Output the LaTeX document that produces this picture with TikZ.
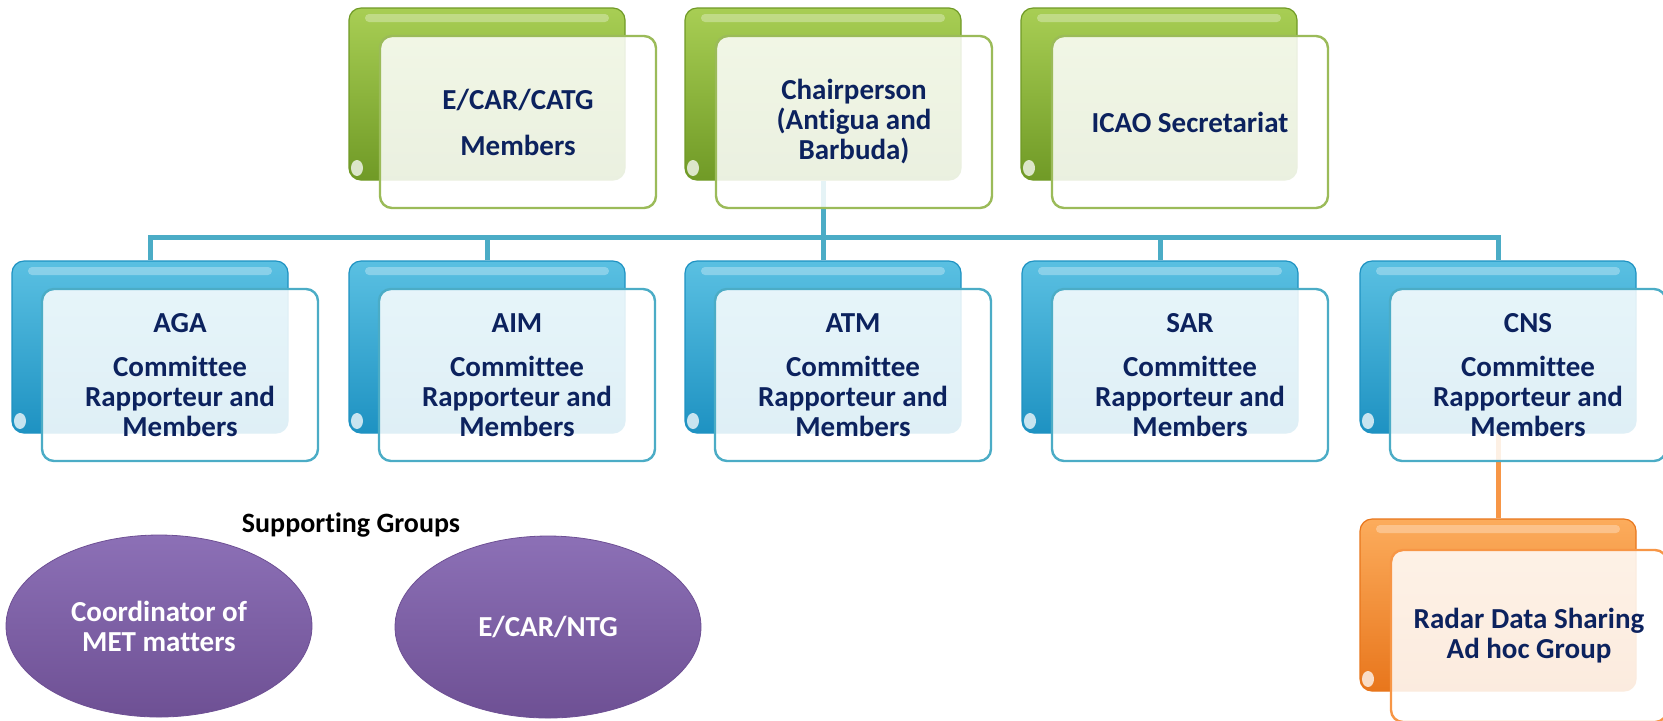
\documentclass[tikz,border=0pt]{standalone}
\usepackage{fontspec}
\setmainfont{Carlito}[Ligatures=CommonOff]
\usetikzlibrary{shapes.geometric}
\definecolor{navy}{RGB}{12,34,94}
\definecolor{grnhi}{RGB}{168,206,84}
\definecolor{grnlo}{RGB}{112,154,38}
\definecolor{grnline}{RGB}{155,187,89}
\definecolor{bluhi}{RGB}{90,192,226}
\definecolor{blulo}{RGB}{30,146,194}
\definecolor{bluline}{RGB}{75,172,198}
\definecolor{orahi}{RGB}{252,172,92}
\definecolor{oralo}{RGB}{232,118,28}
\definecolor{oraline}{RGB}{247,150,70}
\definecolor{purhi}{RGB}{140,112,182}
\definecolor{purlo}{RGB}{110,80,148}
\begin{document}
\begin{tikzpicture}[x=0.5pt, y=-0.5pt,
	back/.style={rounded corners=6pt, minimum width=138pt, minimum height=86pt, inner sep=0pt, line width=0.6pt,
		path picture={
			\fill[white, opacity=0.3, rounded corners=2pt] ([xshift=8pt,yshift=-3pt]path picture bounding box.north west) rectangle ([xshift=-8pt,yshift=-7pt]path picture bounding box.north east);
			\fill[white, opacity=0.75] ([xshift=4pt,yshift=6pt]path picture bounding box.south west) ellipse [x radius=3pt, y radius=4pt];
		}},
	front/.style={rounded corners=6pt, minimum width=138pt, minimum height=86pt, inner sep=0pt, line width=1.2pt,
		fill=white, fill opacity=0.86, text opacity=1, align=center, text=navy,
		font=\fontsize{14.5}{15}\selectfont\bfseries},
	greenback/.style={back, top color=grnhi, bottom color=grnlo, draw=grnlo},
	greenfront/.style={front, draw=grnline},
	blueback/.style={back, top color=bluhi, bottom color=blulo, draw=blulo},
	bluefront/.style={front, draw=bluline},
	orangeback/.style={back, top color=orahi, bottom color=oralo, draw=oralo},
	orangefront/.style={front, draw=oraline},
	support/.style={ellipse, minimum width=153pt, minimum height=91pt, inner sep=0pt, top color=purhi, bottom color=purlo,
		draw=purlo, align=center, text=white, font=\fontsize{14.5}{15}\selectfont\bfseries},
	link/.style={line width=2.5pt, draw=bluline},
	radarlink/.style={line width=2.5pt, draw=oraline}]

	\clip (0,0) rectangle (1663,720);
	\coordinate (bus) at (0,237);

	% back boxes
	\node[greenback] (catgb) at (487,94) {};
	\node[greenback] (chairb) at (823,94) {};
	\node[greenback] (icaob) at (1159,94) {};

	\node[blueback] (agab) at (150,347) {};
	\node[blueback] (aimb) at (487,347) {};
	\node[blueback] (atmb) at (823,347) {};
	\node[blueback] (sarb) at (1160,347) {};
	\node[blueback] (cnsb) at (1498,347) {};

	\node[orangeback] (radarb) at (1498,605) {};

	% connectors
	\draw[link] (chairb.south) -- (chairb.south |- bus);
	\draw[link] (agab.north) -- (agab.north |- bus) -| (cnsb.north);
	\draw[link] (aimb.north) -- (aimb.north |- bus);
	\draw[link] (atmb.north) -- (atmb.north |- bus);
	\draw[link] (sarb.north) -- (sarb.north |- bus);
	\draw[radarlink] (cnsb.south) -- (radarb.north);

	% front boxes
	\node[greenfront] (catg) at (518,122) {E/CAR/CATG\\[8pt]Members};
	\node[greenfront] (chair) at (854,122) {Chairperson\\(Antigua and\\Barbuda)};
	\node[greenfront] (icao) at (1190,122) {ICAO Secretariat};

	\node[bluefront] (aga) at (180,375) {AGA\\[7pt]Committee\\Rapporteur and\\Members};
	\node[bluefront] (aim) at (517,375) {AIM\\[7pt]Committee\\Rapporteur and\\Members};
	\node[bluefront] (atm) at (853,375) {ATM\\[7pt]Committee\\Rapporteur and\\Members};
	\node[bluefront] (sar) at (1190,375) {SAR\\[7pt]Committee\\Rapporteur and\\Members};
	\node[bluefront] (cns) at (1528,375) {CNS\\[7pt]Committee\\Rapporteur and\\Members};

	\node[orangefront] (radar) at (1529,636) {Radar Data Sharing\\Ad hoc Group};

	% supporting groups
	\node[font=\fontsize{14}{14.5}\selectfont\bfseries] (suplabel) at (351,525) {Supporting Groups};
	\node[support] (met) at (159,626) {Coordinator of\\MET matters};
	\node[support] (ntg) at (548,627) {E/CAR/NTG};

\end{tikzpicture}
\end{document}
